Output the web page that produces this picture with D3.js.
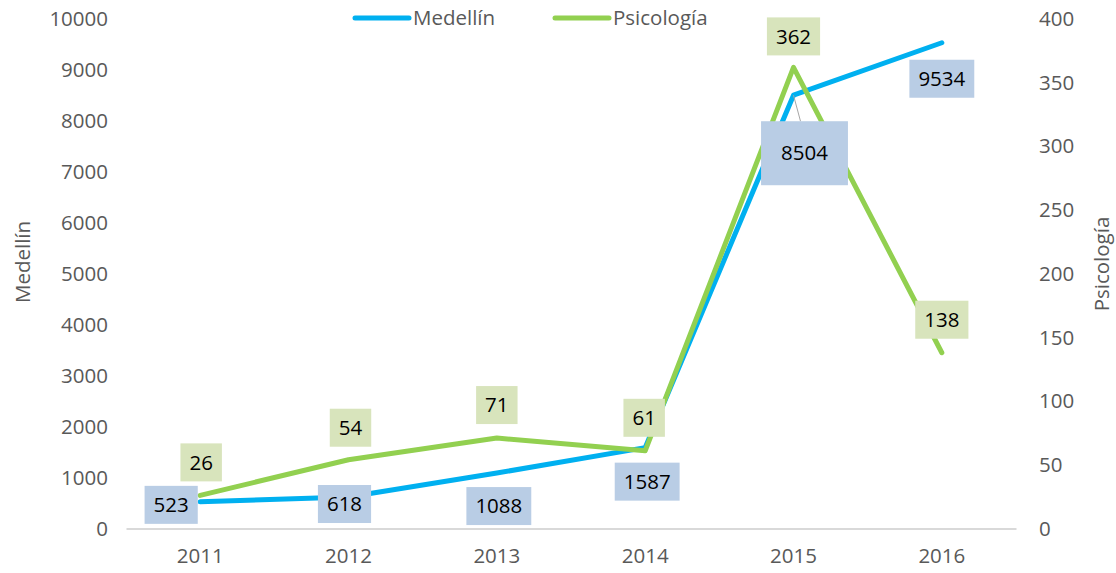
<!DOCTYPE html>
<html>
<head>
<meta charset="utf-8">
<script src="https://cdn.jsdelivr.net/npm/d3@7"></script>
<style>
  body { margin: 0; background: #fff; }
  text { font-family: "Open Sans", sans-serif; }
</style>
</head>
<body>
<div id="chart"></div>
<script>
"use strict";
(function() {

const WIDTH = 1116
const HEIGHT = 573

const margin = { top: 19, bottom: 44, left: 126, right: 100 }

const BLUE = "#00b0f0"
const GREEN = "#92d050"
const BLUE_BOX = "#b9cde5"
const GREEN_BOX = "#d8e4bc"
const GREY_TEXT = "#595959"

// data
const years = ["2011", "2012", "2013", "2014", "2015", "2016"]
const medellin = [523, 618, 1088, 1587, 8504, 9534]
const psicologia = [26, 54, 71, 61, 362, 138]

const leftTicks = d3.range(0, 10001, 1000)
const rightTicks = d3.range(0, 401, 50)

// label placement (offset of box centre from the point), like excel's manual moves
const medOffsets = [[-29, 3], [-4, 7], [2, 33], [2, 34], [11, 58], [0, 36]]
const psiOffsets = [[1, -33], [2, -32], [0, -33], [-1, -33], [0, -31], [0, -33]]

let svg = d3.select("#chart").append("svg")
    .attr("width", WIDTH)
    .attr("height", HEIGHT)

let x_scale = d3.scaleBand()
    .domain(years)
    .range([margin.left, WIDTH - margin.right])

let y_left = d3.scaleLinear().domain([0, 10000]).range([HEIGHT - margin.bottom - 0.5, margin.top])
let y_right = d3.scaleLinear().domain([0, 400]).range([HEIGHT - margin.bottom - 0.5, margin.top])

let cx = d => x_scale(d) + x_scale.bandwidth() / 2

// left axis
let gl = svg.append("g")
    .attr("transform", `translate(${margin.left - 18}, 0)`)
    .call(d3.axisLeft(y_left).tickValues(leftTicks).tickFormat(d3.format("d")).tickSize(0).tickPadding(0))
gl.select(".domain").remove()

// right axis
let gr = svg.append("g")
    .attr("transform", `translate(${WIDTH - margin.right + 23}, 0)`)
    .call(d3.axisRight(y_right).tickValues(rightTicks).tickFormat(d3.format("d")).tickSize(0).tickPadding(0))
gr.select(".domain").remove()

// bottom axis
let gb = svg.append("g")
    .attr("transform", `translate(0, ${y_left(0)})`)
    .call(d3.axisBottom(x_scale).tickSize(0).tickPadding(20))
gb.select(".domain").attr("stroke", "#d9d9d9").attr("stroke-width", 2)

svg.selectAll(".tick text")
    .attr("fill", GREY_TEXT)
    .style("font-size", "20.5px")
    .style("font-family", "'Open Sans', sans-serif")

// axis titles
svg.append("text")
    .attr("transform", `translate(30, 262) rotate(-90)`)
    .attr("text-anchor", "middle")
    .attr("fill", GREY_TEXT)
    .style("font-size", "20.5px")
    .text("Medellín")

svg.append("text")
    .attr("transform", `translate(1109, 264) rotate(-90)`)
    .attr("text-anchor", "middle")
    .attr("fill", GREY_TEXT)
    .style("font-size", "20.5px")
    .text("Psicología")

// lines
let lineLeft = d3.line()
    .x((d, i) => cx(years[i]))
    .y(d => y_left(d))

let lineRight = d3.line()
    .x((d, i) => cx(years[i]))
    .y(d => y_right(d))

svg.append("path")
    .attr("d", lineLeft(medellin))
    .attr("fill", "none")
    .attr("stroke", BLUE)
    .attr("stroke-width", 5)
    .attr("stroke-linejoin", "round")
    .attr("stroke-linecap", "round")

svg.append("path")
    .attr("d", lineRight(psicologia))
    .attr("fill", "none")
    .attr("stroke", GREEN)
    .attr("stroke-width", 5)
    .attr("stroke-linejoin", "round")
    .attr("stroke-linecap", "round")

// data labels
function drawLabels(values, scale, offsets, fill) {
    values.forEach((v, i) => {
        let px = cx(years[i])
        let py = scale(v)
        let lx = px + offsets[i][0]
        let ly = py + offsets[i][1]
        let big = (fill === BLUE_BOX && i === 4)
        let g = svg.append("g")
        if (big) {
            // leader line from the point to the moved label
            g.append("line")
                .attr("x1", px).attr("y1", py)
                .attr("x2", lx - 4).attr("y2", ly - 32)
                .attr("stroke", "#a6a6a6")
                .attr("stroke-width", 1)
        }
        let rect = g.append("rect").attr("fill", fill)
        let t = g.append("text")
            .attr("x", lx)
            .attr("y", ly)
            .attr("dy", "0.35em")
            .attr("text-anchor", "middle")
            .attr("fill", "#000")
            .style("font-size", "20.5px")
            .text(v)
        let w = t.node().getComputedTextLength()
        let padX = big ? 20 : 9
        let h = big ? 64 : 38
        rect.attr("x", lx - w / 2 - padX)
            .attr("y", ly - h / 2)
            .attr("width", w + 2 * padX)
            .attr("height", h)
    })
}

drawLabels(medellin, y_left, medOffsets, BLUE_BOX)
drawLabels(psicologia, y_right, psiOffsets, GREEN_BOX)

// legend
const legendItems = [
    { name: "Medellín", color: BLUE, x: 355 },
    { name: "Psicología", color: GREEN, x: 555 }
]

let lg = svg.append("g").attr("class", "legend")
legendItems.forEach(item => {
    lg.append("line")
        .attr("x1", item.x).attr("x2", item.x + 54)
        .attr("y1", 18).attr("y2", 18)
        .attr("stroke", item.color)
        .attr("stroke-width", 5)
        .attr("stroke-linecap", "round")
    lg.append("text")
        .attr("x", item.x + 58)
        .attr("y", 18)
        .attr("dy", "0.35em")
        .attr("fill", GREY_TEXT)
        .style("font-size", "20.5px")
        .text(item.name)
})

})();
</script>
</body>
</html>
